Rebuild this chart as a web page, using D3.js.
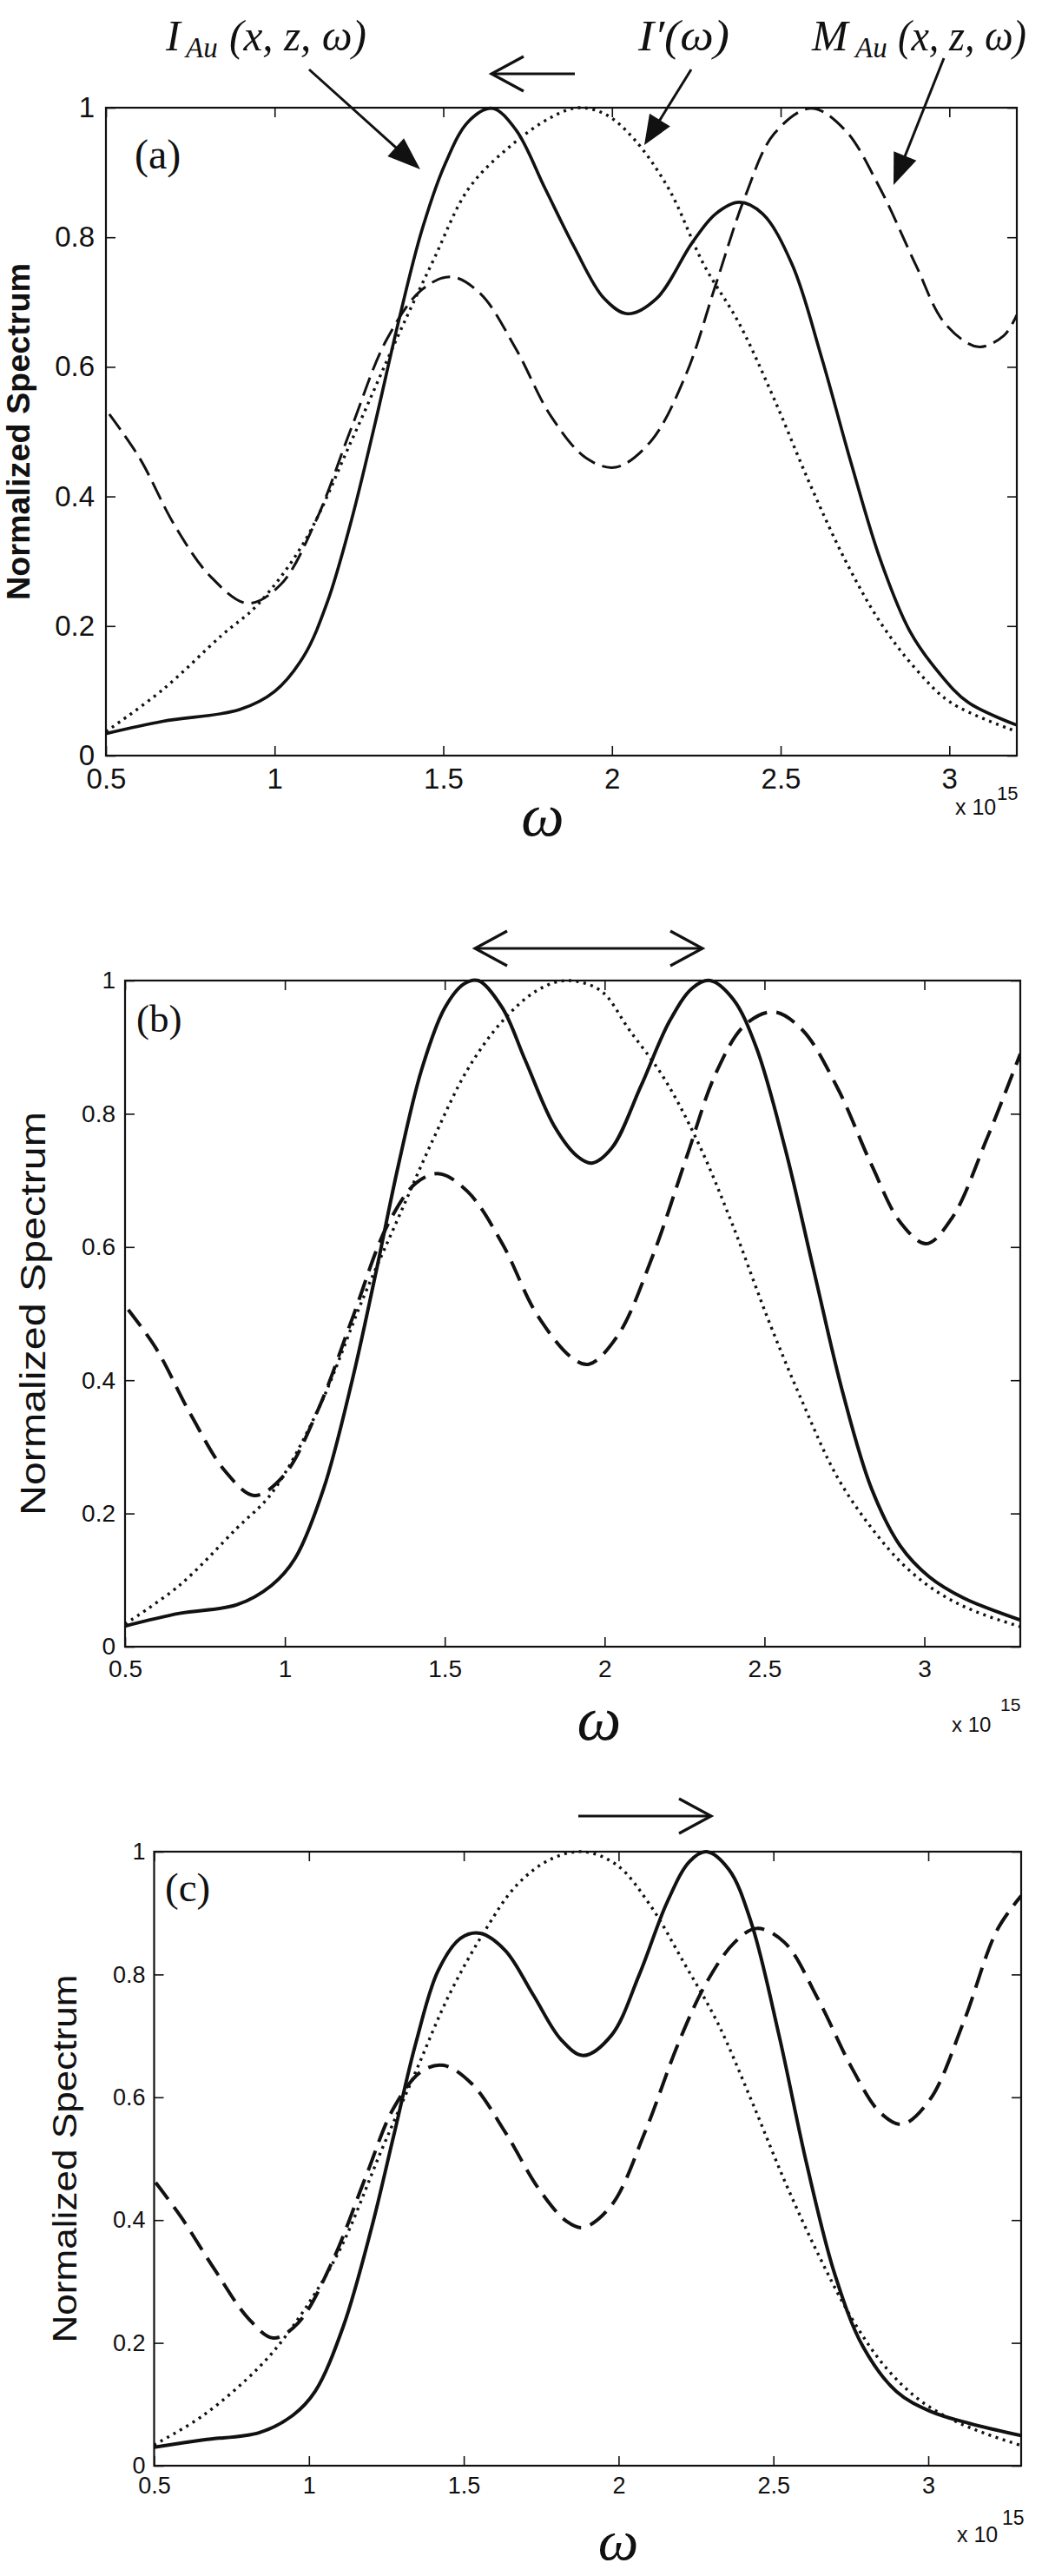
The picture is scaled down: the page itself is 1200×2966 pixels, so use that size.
<!DOCTYPE html>
<html><head><meta charset="utf-8">
<script src="https://cdn.jsdelivr.net/npm/d3@7"></script>
<style>body{margin:0;background:#fff} svg{display:block}</style>
</head><body>
<svg id="fig" width="1200" height="2966"></svg>
<script>
// ---------------- DATA ----------------
const xTicks = [0.5, 1, 1.5, 2, 2.5, 3];
const yTicks = [0, 0.2, 0.4, 0.6, 0.8, 1];
const panelLabels = ["(a)", "(b)", "(c)"];
const yAxisLabel = "Normalized Spectrum";
const xAxisLabel = "ω";
const xExponent = "15";

// panel (a): [omega (x1e15), normalized value]
const a_IAu = [[0.5,0.034],[0.669,0.053],[0.896,0.071],[1.0,0.099],[1.087,0.154],[1.157,0.238],[1.227,0.362],[1.297,0.511],[1.366,0.667],[1.436,0.81],[1.506,0.914],[1.575,0.979],[1.645,0.999],[1.715,0.966],[1.802,0.875],[1.889,0.784],[1.976,0.706],[2.046,0.682],[2.133,0.706],[2.237,0.791],[2.307,0.836],[2.377,0.854],[2.447,0.836],[2.534,0.758],[2.621,0.615],[2.708,0.453],[2.795,0.303],[2.882,0.193],[2.969,0.128],[3.056,0.082],[3.2,0.047]];
const a_Ip = [[0.5,0.037],[0.669,0.102],[0.844,0.186],[0.948,0.232],[1.087,0.329],[1.227,0.485],[1.366,0.648],[1.471,0.765],[1.575,0.875],[1.697,0.94],[1.819,0.985],[1.9,1.0],[1.98,0.99],[2.063,0.953],[2.168,0.875],[2.272,0.758],[2.377,0.667],[2.481,0.55],[2.586,0.42],[2.69,0.303],[2.795,0.206],[2.9,0.134],[3.004,0.082],[3.2,0.037]];
const a_MAu = [[0.51,0.527],[0.6,0.459],[0.704,0.355],[0.809,0.277],[0.92,0.235],[1.018,0.264],[1.122,0.362],[1.227,0.505],[1.331,0.641],[1.436,0.719],[1.523,0.739],[1.61,0.713],[1.715,0.628],[1.819,0.524],[1.924,0.459],[2.011,0.445],[2.115,0.485],[2.22,0.589],[2.307,0.726],[2.394,0.862],[2.481,0.96],[2.59,0.999],[2.69,0.966],[2.795,0.875],[2.9,0.758],[2.987,0.667],[3.085,0.631],[3.161,0.648],[3.2,0.68]];

// panel (b)
const b_IAu = [[0.5,0.031],[0.67,0.05],[0.85,0.063],[0.958,0.092],[1.031,0.132],[1.121,0.237],[1.211,0.401],[1.283,0.558],[1.355,0.723],[1.428,0.867],[1.5,0.959],[1.56,0.995],[1.605,1.0],[1.68,0.959],[1.752,0.88],[1.842,0.782],[1.915,0.736],[1.96,0.726],[2.023,0.749],[2.113,0.841],[2.203,0.939],[2.275,0.989],[2.33,1.0],[2.402,0.972],[2.474,0.9],[2.564,0.749],[2.654,0.565],[2.745,0.381],[2.835,0.237],[2.925,0.151],[3.015,0.105],[3.123,0.073],[3.3,0.04]];
const b_Ip = [[0.5,0.034],[0.67,0.092],[0.85,0.178],[0.958,0.23],[1.103,0.355],[1.247,0.526],[1.355,0.644],[1.464,0.762],[1.572,0.867],[1.68,0.939],[1.788,0.985],[1.88,1.0],[1.987,0.985],[2.077,0.926],[2.185,0.854],[2.293,0.756],[2.402,0.631],[2.51,0.493],[2.618,0.368],[2.726,0.256],[2.835,0.178],[2.943,0.119],[3.051,0.079],[3.159,0.053],[3.3,0.03]];
const b_MAu = [[0.51,0.506],[0.598,0.447],[0.706,0.348],[0.814,0.263],[0.904,0.227],[0.995,0.256],[1.103,0.355],[1.211,0.493],[1.319,0.631],[1.41,0.696],[1.482,0.71],[1.572,0.683],[1.68,0.605],[1.788,0.499],[1.897,0.434],[1.951,0.424],[2.041,0.467],[2.149,0.585],[2.257,0.736],[2.348,0.861],[2.438,0.933],[2.528,0.953],[2.618,0.926],[2.726,0.841],[2.835,0.723],[2.925,0.637],[3.006,0.605],[3.087,0.644],[3.195,0.762],[3.3,0.89]];

// panel (c)
const c_IAu = [[0.5,0.03],[0.659,0.042],[0.84,0.054],[0.948,0.082],[1.02,0.121],[1.111,0.227],[1.201,0.385],[1.273,0.536],[1.345,0.688],[1.417,0.806],[1.49,0.859],[1.553,0.867],[1.634,0.839],[1.724,0.767],[1.814,0.694],[1.886,0.668],[1.977,0.701],[2.067,0.8],[2.157,0.918],[2.229,0.984],[2.283,1.0],[2.356,0.971],[2.428,0.885],[2.518,0.701],[2.608,0.49],[2.698,0.312],[2.789,0.194],[2.897,0.121],[3.005,0.089],[3.132,0.069],[3.3,0.049]];
const c_Ip = [[0.5,0.034],[0.659,0.082],[0.84,0.161],[0.948,0.227],[1.093,0.345],[1.237,0.517],[1.345,0.642],[1.453,0.767],[1.562,0.866],[1.67,0.945],[1.778,0.987],[1.886,1.0],[1.995,0.978],[2.103,0.912],[2.211,0.819],[2.32,0.721],[2.428,0.596],[2.536,0.464],[2.644,0.345],[2.753,0.24],[2.861,0.161],[2.969,0.108],[3.077,0.075],[3.186,0.052],[3.3,0.033]];
const c_MAu = [[0.505,0.461],[0.587,0.405],[0.696,0.319],[0.804,0.24],[0.885,0.208],[0.966,0.233],[1.075,0.332],[1.183,0.47],[1.273,0.582],[1.363,0.642],[1.435,0.652],[1.526,0.622],[1.634,0.543],[1.742,0.451],[1.832,0.398],[1.886,0.388],[1.977,0.424],[2.085,0.543],[2.193,0.688],[2.283,0.786],[2.374,0.852],[2.446,0.875],[2.536,0.852],[2.644,0.76],[2.753,0.648],[2.843,0.576],[2.915,0.556],[3.005,0.596],[3.113,0.721],[3.222,0.872],[3.3,0.928]];

// ---------------- LAYOUT ----------------
const panels = [
  {left:122, right:1171, top:124, bottom:870, xMax:3.2, tickFs:33, tickPadX:15, tickPadY:13, labFs:36, labW:"bold", labX:34, labLen:388,
   omegaX:625, omegaY:962, omegaFs:70, expX:1100, expY:938, expFs:25, supX:1148, supY:921, supFs:22,
   plX:155, plY:194, plFs:48, dashW:3, dash:"22,9", solidW:3.6, dotW:3.4,
   series:[a_IAu, a_Ip, a_MAu]},
  {left:144, right:1175, top:1129, bottom:1896, xMax:3.3, tickFs:28, tickPadX:15, tickPadY:11, labFs:40, labW:"normal", labX:52, labLen:465,
   omegaX:690, omegaY:2003, omegaFs:72, expX:1096, expY:1994, expFs:24, supX:1152, supY:1970, supFs:21,
   plX:157, plY:1188, plFs:45, dashW:4, dash:"24,11", solidW:4, dotW:3.4,
   series:[b_IAu, b_Ip, b_MAu]},
  {left:177.5, right:1176, top:2132, bottom:2839, xMax:3.3, tickFs:27, tickPadX:13, tickPadY:10, labFs:39, labW:"normal", labX:88, labLen:424,
   omegaX:712, omegaY:2947, omegaFs:66, expX:1102, expY:2927, expFs:25, supX:1154, supY:2907, supFs:23,
   plX:190, plY:2189, plFs:47, dashW:4, dash:"24,11", solidW:4, dotW:3.4,
   series:[c_IAu, c_Ip, c_MAu]}
];

const svg = d3.select("#fig");
svg.append("rect").attr("width",1200).attr("height",2966).attr("fill","#fff");
const SANS = "'Liberation Sans', Arial, sans-serif";
const SERIF = "'Liberation Serif', 'Times New Roman', serif";
const INK = "#111";

panels.forEach((p, i) => {
  const x = d3.scaleLinear().domain([0.5, p.xMax]).range([p.left, p.right]);
  const y = d3.scaleLinear().domain([0, 1]).range([p.bottom, p.top]);
  const g = svg.append("g");
  const clipId = "clip" + i;
  svg.append("clipPath").attr("id", clipId).append("rect")
    .attr("x", p.left).attr("y", p.top - 3).attr("width", p.right - p.left).attr("height", p.bottom - p.top + 3);

  // axes
  const fmt = d => String(d);
  const tick = 11;
  g.append("g").attr("transform", `translate(0,${p.bottom})`)
    .call(d3.axisBottom(x).tickValues(xTicks).tickSizeInner(-tick).tickSizeOuter(0).tickPadding(p.tickPadX).tickFormat(fmt));
  g.append("g").attr("transform", `translate(0,${p.top})`)
    .call(d3.axisTop(x).tickValues(xTicks).tickSizeInner(-tick).tickSizeOuter(0).tickFormat(""));
  g.append("g").attr("transform", `translate(${p.left},0)`)
    .call(d3.axisLeft(y).tickValues(yTicks).tickSizeInner(-tick).tickSizeOuter(0).tickPadding(p.tickPadY).tickFormat(fmt));
  g.append("g").attr("transform", `translate(${p.right},0)`)
    .call(d3.axisRight(y).tickValues(yTicks).tickSizeInner(-tick).tickSizeOuter(0).tickFormat(""));
  g.selectAll(".domain").remove();
  g.selectAll(".tick line").attr("stroke", INK).attr("stroke-width", 1.6);
  g.selectAll(".tick text").attr("font-family", SANS).attr("font-size", p.tickFs).attr("fill", INK);
  g.append("rect").attr("x", p.left).attr("y", p.top).attr("width", p.right - p.left).attr("height", p.bottom - p.top)
    .attr("fill", "none").attr("stroke", INK).attr("stroke-width", 2.2);

  // curves
  const line = d3.line().x(d => x(d[0])).y(d => y(d[1])).curve(d3.curveCatmullRom.alpha(0.5));
  const cg = g.append("g").attr("clip-path", `url(#${clipId})`);
  cg.append("path").datum(p.series[1]).attr("d", line).attr("fill", "none").attr("stroke", INK)
    .attr("stroke-width", p.dotW).attr("stroke-dasharray", "3,5.5");
  cg.append("path").datum(p.series[2]).attr("d", line).attr("fill", "none").attr("stroke", INK)
    .attr("stroke-width", p.dashW).attr("stroke-dasharray", p.dash);
  cg.append("path").datum(p.series[0]).attr("d", line).attr("fill", "none").attr("stroke", INK)
    .attr("stroke-width", p.solidW).attr("stroke-linejoin", "round");

  // labels
  const cy = (p.top + p.bottom) / 2;
  g.append("text").attr("transform", `translate(${p.labX},${cy}) rotate(-90)`)
    .attr("text-anchor", "middle").attr("font-family", SANS).attr("font-size", p.labFs).attr("font-weight", p.labW)
    .attr("textLength", p.labLen).attr("lengthAdjust", "spacingAndGlyphs").attr("fill", INK).text(yAxisLabel);
  g.append("text").attr("x", p.omegaX).attr("y", p.omegaY).attr("text-anchor", "middle")
    .attr("font-family", SERIF).attr("font-style", "italic").attr("font-size", p.omegaFs).attr("fill", INK).text(xAxisLabel);
  g.append("text").attr("x", p.expX).attr("y", p.expY).attr("font-family", SANS).attr("font-size", p.expFs).attr("fill", INK).text("x 10");
  g.append("text").attr("x", p.supX).attr("y", p.supY).attr("font-family", SANS).attr("font-size", p.supFs).attr("fill", INK).text(xExponent);
  g.append("text").attr("x", p.plX).attr("y", p.plY).attr("font-family", SERIF).attr("font-size", p.plFs).attr("fill", INK).text(panelLabels[i]);
});

// ---------------- ANNOTATIONS ----------------
function filledArrow(x1, y1, x2, y2, len, halfW) {
  const L = Math.hypot(x2 - x1, y2 - y1), ux = (x2 - x1) / L, uy = (y2 - y1) / L;
  svg.append("line").attr("x1", x1).attr("y1", y1).attr("x2", x2 - ux * len * 0.5).attr("y2", y2 - uy * len * 0.5)
    .attr("stroke", INK).attr("stroke-width", 3);
  const bx = x2 - ux * len, by = y2 - uy * len;
  const pts = [[x2, y2], [bx - uy * halfW, by + ux * halfW], [bx + uy * halfW, by - ux * halfW]];
  svg.append("polygon").attr("points", pts.map(q => q.join(",")).join(" ")).attr("fill", INK);
}
function openArrow(x1, x2, yv, left, right) {
  svg.append("line").attr("x1", x1).attr("x2", x2).attr("y1", yv).attr("y2", yv).attr("stroke", INK).attr("stroke-width", 3.2);
  const d = 37, h = 20;
  if (left) svg.append("polyline").attr("points", `${x1 + d},${yv - h} ${x1},${yv} ${x1 + d},${yv + h}`)
    .attr("fill", "none").attr("stroke", INK).attr("stroke-width", 3.2);
  if (right) svg.append("polyline").attr("points", `${x2 - d},${yv - h} ${x2},${yv} ${x2 - d},${yv + h}`)
    .attr("fill", "none").attr("stroke", INK).attr("stroke-width", 3.2);
}

// series name labels of panel (a)
const ann = svg.append("g").attr("font-family", SERIF).attr("font-style", "italic").attr("fill", INK);
ann.append("text").attr("x", 191).attr("y", 58).attr("font-size", 50).text("I");
ann.append("text").attr("x", 214).attr("y", 66).attr("font-size", 33).text("Au");
ann.append("text").attr("x", 264).attr("y", 58).attr("font-size", 50).attr("textLength", 158).attr("lengthAdjust", "spacingAndGlyphs").text("(x, z, ω)");
ann.append("text").attr("x", 735).attr("y", 58).attr("font-size", 50).attr("textLength", 105).attr("lengthAdjust", "spacingAndGlyphs").text("I′(ω)");
ann.append("text").attr("x", 935).attr("y", 58).attr("font-size", 50).text("M");
ann.append("text").attr("x", 985).attr("y", 66).attr("font-size", 33).text("Au");
ann.append("text").attr("x", 1034).attr("y", 58).attr("font-size", 50).attr("textLength", 148).attr("lengthAdjust", "spacingAndGlyphs").text("(x, z, ω)");

filledArrow(356, 80, 484, 195, 38, 14);
filledArrow(796, 80, 742, 167, 34, 14);
filledArrow(1087, 67, 1029, 213, 36, 14);

openArrow(566, 662, 85, true, false);
openArrow(547, 809, 1092, true, true);
openArrow(666, 819, 2091, false, true);
</script>
</body></html>
